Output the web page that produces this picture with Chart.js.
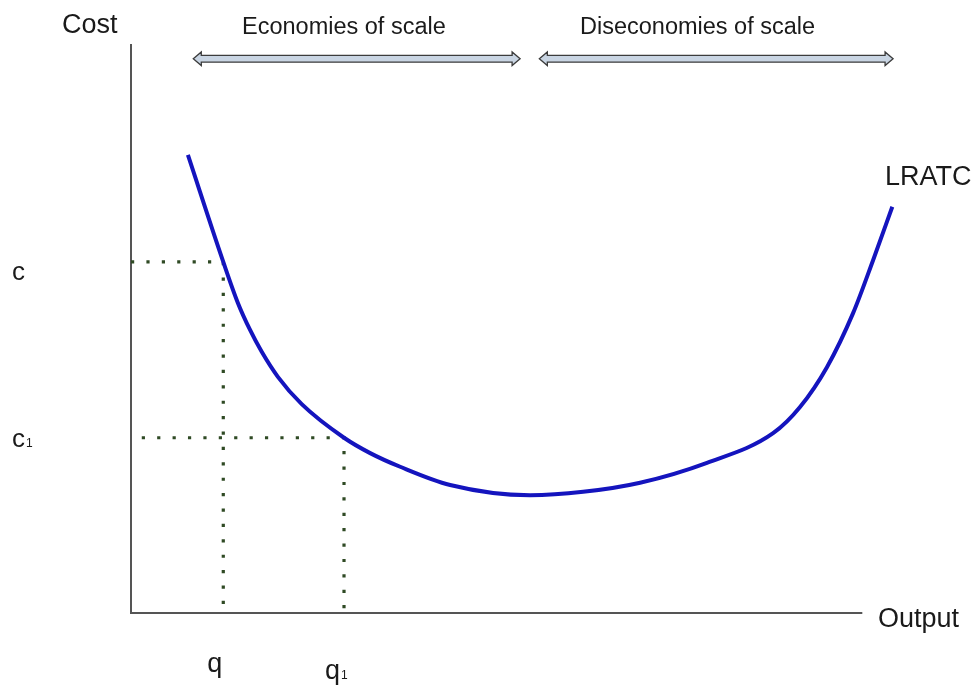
<!DOCTYPE html>
<html>
<head>
<meta charset="utf-8">
<title>Long run average total cost</title>
<script src="https://cdn.jsdelivr.net/npm/chart.js@4.4.1/dist/chart.umd.min.js"></script>
<style>
  html, body { margin: 0; padding: 0; background: #fff; }
  #wrap { width: 975px; height: 689px; }
</style>
</head>
<body>
<div id="wrap"><canvas id="lratcChart" width="975" height="689"></canvas></div>
<script>
// output (x) and cost (y), both on a 0-100 scale
var outputQ = [7.4, 12.0, 13.9, 15.5, 17.0, 19.1, 22.2, 27.7, 31.1, 35.0, 41.5, 51.9, 58.8, 66.2, 74.9, 83.5, 87.0, 90.5, 93.9, 96.5, 99.0];
var lratc   = [80.5, 61.7, 54.5, 49.7, 45.9, 41.5, 36.7, 30.8, 28.1, 25.7, 22.5, 20.7, 21.3, 22.9, 26.4, 31.6, 36.2, 43.2, 52.7, 62.0, 71.4];

// guide levels: c / q and c1 / q1
var costLevels = [61.7, 30.8];
var costLabels = ["c", "c1"];
var outputLevels = [12.0, 27.7];
var outputLabels = ["q", "q1"];

// ranges of the two arrows at the top
var arrowSpans = [[8.1, 50.6], [53.1, 99.1]];
var arrowLabels = ["Economies of scale", "Diseconomies of scale"];

var axisEnd = [95.1, 100];   // x axis end, y axis top

var FONT = "'Liberation Sans', Arial, sans-serif";
var TXT = "#1a1a1a";
var DOTS = "#2f4a24";

function pt(xs, ys) {
    var out = [];
    for (var i = 0; i < xs.length; i++) out.push({x: xs[i], y: ys[i]});
    return out;
}

function guide(pts) {
    return {
        data: pts,
        showLine: true,
        borderColor: DOTS,
        borderWidth: 3.2,
        borderDash: [3.2, 12.2],
        borderCapStyle: "butt",
        pointRadius: 0,
        clip: false
    };
}

// text with a small subscript when the label ends in a digit ("c1" -> c with small 1)
function drawLabel(ctx, text, x, y, size) {
    var m = text.match(/^(\D+)(\d*)$/);
    ctx.font = size + "px " + FONT;
    ctx.fillText(m[1], x, y);
    if (m[2]) {
        var w = ctx.measureText(m[1]).width;
        ctx.font = Math.round(size * 0.45) + "px " + FONT;
        ctx.fillText(m[2], x + w + 1, y);
    }
}

function drawArrow(ctx, x1, x2, y) {
    var sh = 3.4, hh = 6.8, hl = 8;
    ctx.beginPath();
    ctx.moveTo(x1, y);
    ctx.lineTo(x1 + hl, y - hh);
    ctx.lineTo(x1 + hl, y - sh);
    ctx.lineTo(x2 - hl, y - sh);
    ctx.lineTo(x2 - hl, y - hh);
    ctx.lineTo(x2, y);
    ctx.lineTo(x2 - hl, y + hh);
    ctx.lineTo(x2 - hl, y + sh);
    ctx.lineTo(x1 + hl, y + sh);
    ctx.lineTo(x1 + hl, y + hh);
    ctx.closePath();
    ctx.fillStyle = "#c9d5e3";
    ctx.fill();
    ctx.strokeStyle = "#3c3c3c";
    ctx.lineWidth = 1.3;
    ctx.stroke();
}

var annotations = {
    id: "annotations",
    afterDatasetsDraw: function(chart) {
        var ctx = chart.ctx;
        var xs = chart.scales.x, ys = chart.scales.y;
        ctx.save();
        ctx.textBaseline = "alphabetic";
        ctx.textAlign = "left";

        // arrows + their captions
        var capX = [242, 580];
        for (var i = 0; i < arrowSpans.length; i++) {
            drawArrow(ctx, xs.getPixelForValue(arrowSpans[i][0]), xs.getPixelForValue(arrowSpans[i][1]), ys.getPixelForValue(97.4));
            ctx.fillStyle = TXT;
            ctx.font = "23.5px " + FONT;
            ctx.fillText(arrowLabels[i], capX[i], 34);
        }

        ctx.fillStyle = TXT;
        ctx.font = "27px " + FONT;
        ctx.fillText("Cost", 62, 33);
        ctx.fillText("Output", 878, ys.getPixelForValue(0) + 14);
        ctx.fillText("LRATC", 885, 185);

        // c, c1 on the left
        for (var j = 0; j < costLevels.length; j++) {
            var py = ys.getPixelForValue(costLevels[j]);
            drawLabel(ctx, costLabels[j], 12, py + (j === 0 ? 18 : 9), 26);
        }
        // q, q1 under the axis
        var qdy = [59, 66];
        var qdx = [-16, -19];
        for (var k = 0; k < outputLevels.length; k++) {
            var px = xs.getPixelForValue(outputLevels[k]);
            drawLabel(ctx, outputLabels[k], px + qdx[k], ys.getPixelForValue(0) + qdy[k], 27);
        }
        ctx.restore();
    }
};

var lineData = [
    {   // LRATC curve
        data: pt(outputQ, lratc),
        showLine: true,
        borderColor: "#1414be",
        borderWidth: 4,
        pointRadius: 0,
        cubicInterpolationMode: "monotone",
        clip: false
    },
    guide([{x: 0, y: costLevels[0]}, {x: outputLevels[0], y: costLevels[0]}, {x: outputLevels[0], y: 0}]),
    guide([{x: 1.4, y: costLevels[1]}, {x: outputLevels[1], y: costLevels[1]}, {x: outputLevels[1], y: 0}]),
    {   // axes
        data: [{x: 0, y: axisEnd[1]}, {x: 0, y: 0}, {x: axisEnd[0], y: 0}],
        showLine: true,
        borderColor: "#555555",
        borderWidth: 2,
        pointRadius: 0,
        clip: false
    }
];

var lratcChart = new Chart(document.getElementById("lratcChart"), {
    type: "scatter",
    data: { datasets: lineData },
    options: {
        responsive: false,
        animation: false,
        devicePixelRatio: 1,
        layout: { padding: { left: 131, right: 75, top: 44, bottom: 76 } },
        scales: {
            x: { type: "linear", min: 0, max: 100, display: false },
            y: { type: "linear", min: 0, max: 100, display: false }
        },
        plugins: {
            legend: { display: false },
            tooltip: { enabled: false }
        }
    },
    plugins: [annotations]
});
</script>
</body>
</html>
